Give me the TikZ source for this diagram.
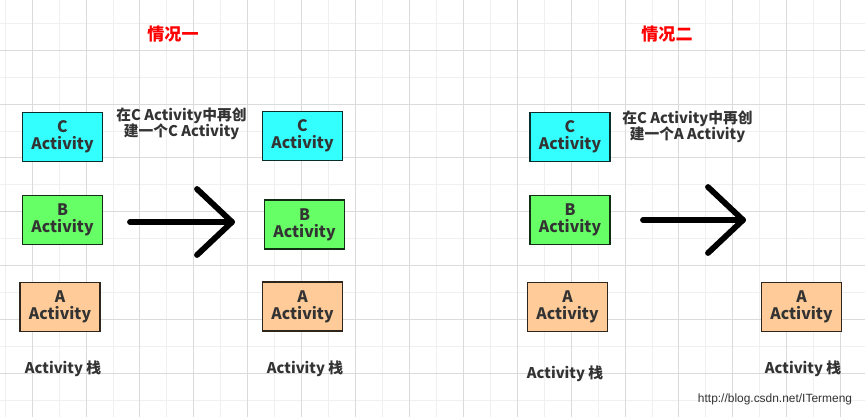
\documentclass[tikz,border=0pt]{standalone}
\usepackage{fontspec}
\setmainfont{Noto Sans CJK SC}
\newfontfamily\linkfont{Liberation Sans}
\usepackage{tikz}
\definecolor{boxC}{HTML}{33FFFF}
\definecolor{boxB}{HTML}{66FF66}
\definecolor{boxA}{HTML}{FFCC99}
\definecolor{inkgray}{HTML}{333333}
\definecolor{titlered}{HTML}{FF0000}
\newcommand\act[1]{#1\\Activity}

\begin{document}
\begin{tikzpicture}[x=0.02cm,y=-0.02cm,
  actbox/.style={draw=#1!18!black,fill=#1,line width=1.1pt,minimum width=1.6cm,minimum height=0.98cm,
    align=center,text=inkgray,font=\bfseries\fontsize{9}{9.7}\selectfont,inner sep=0pt},
  stacklabel/.style={text=inkgray,font=\bfseries\fontsize{8.4}{9.6}\selectfont},
  note/.style={text=inkgray,align=center,font=\bfseries\fontsize{8.4}{9.4}\selectfont},
  heading/.style={text=titlered,font=\bfseries\fontsize{9.7}{11}\selectfont},
  bigarrow/.style={line width=3.3pt,line cap=round,line join=round},
  gridfine/.style={black!6,line width=0.4pt},
  gridmajor/.style={black!14,line width=0.4pt}]
\useasboundingbox (0,0) rectangle (865,417);
\fill[white] (0,0) rectangle (865,417);
% background grid
\foreach \k in {0,...,31} \draw[gridfine] ({5.05+26.95*\k},0) -- ({5.05+26.95*\k},417);
\foreach \k in {0,...,14} \draw[gridfine] (0,{23.05+26.95*\k}) -- (865,{23.05+26.95*\k});
\foreach \k in {0,...,15} \draw[gridmajor] ({32+53.9*\k},0) -- ({32+53.9*\k},417);
\foreach \k in {0,...,6} \draw[gridmajor] (0,{50+53.9*\k}) -- (865,{50+53.9*\k});

% case one
\node (title1) at (173,34) [heading] {情况一};
\node (c1) at (62.5,137) [actbox=boxC] {\act{C}};
\node (b1) at (62.5,220) [actbox=boxB] {\act{B}};
\node (a1) at (60,307) [actbox=boxA] {\act{A}};
\node (stack1) at (63,369) [stacklabel] {Activity 栈};
\node (note1) at (181.5,124) [note] {在C Activity中再创\\建一个C Activity};
\coordinate (tail1) at (130,222);
\coordinate (tip1) at (232,222);
\draw[bigarrow] (tail1) -- (tip1);
\draw[bigarrow] ([shift={(-35,-33)}]tip1) -- (tip1) -- ([shift={(-35,33)}]tip1);
\node (c2) at (302.5,136) [actbox=boxC] {\act{C}};
\node (b2) at (304.5,224.5) [actbox=boxB] {\act{B}};
\node (a2) at (302.5,306.5) [actbox=boxA] {\act{A}};
\node (stack2) at (305,369) [stacklabel] {Activity 栈};

% case two
\node (title2) at (667,34) [heading] {情况二};
\node (c3) at (570,137) [actbox=boxC] {\act{C}};
\node (b3) at (570,220) [actbox=boxB] {\act{B}};
\node (a3) at (567.5,307) [actbox=boxA] {\act{A}};
\node (stack3) at (565,374) [stacklabel] {Activity 栈};
\node (note2) at (687.5,127) [note] {在C Activity中再创\\建一个A Activity};
\coordinate (tail2) at (643,220);
\coordinate (tip2) at (743,220);
\draw[bigarrow] (tail2) -- (tip2);
\draw[bigarrow] ([shift={(-35,-33)}]tip2) -- (tip2) -- ([shift={(-35,33)}]tip2);
\node (a4) at (801.5,307) [actbox=boxA] {\act{A}};
\node (stack4) at (803,369) [stacklabel] {Activity 栈};

\node (link) at (775,399) [text=inkgray,font=\linkfont\fontsize{6.8}{8}\selectfont] {http://blog.csdn.net/ITermeng};
\end{tikzpicture}
\end{document}
